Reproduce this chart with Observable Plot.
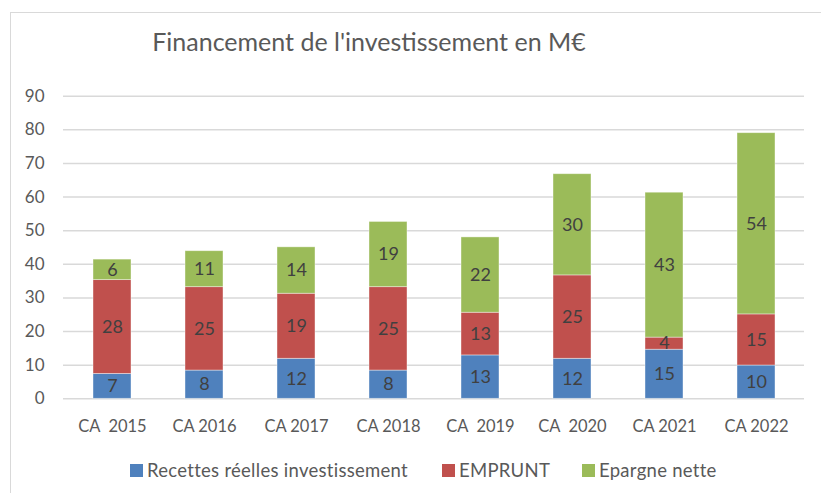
<!DOCTYPE html>
<html>
<head>
<meta charset="utf-8">
<script src="https://cdn.jsdelivr.net/npm/d3@7"></script>
<script src="https://cdn.jsdelivr.net/npm/@observablehq/plot@0.6"></script>
<style>
  html, body { margin: 0; padding: 0; background: #fff; }
  #wrap { position: relative; width: 821px; height: 493px; overflow: hidden; font-family: Lato, "Open Sans", sans-serif; color: #595959; }
  #frame { position: absolute; left: 10px; top: 12px; width: 900px; height: 600px; border-left: 1.5px solid #d9d9d9; border-top: 1.5px solid #d9d9d9; }
  #title { position: absolute; left: 0; width: 738px; top: 24px; text-align: center; font-size: 25px; line-height: 34px; color: #595959; white-space: nowrap; }
  #chart { position: absolute; left: 0; top: 80px; }
  .leg { position: absolute; top: 460px; height: 20px; display: flex; align-items: center; font-size: 18.5px; letter-spacing: 0.28px; color: #595959; white-space: nowrap; }
  .sw { width: 13px; height: 13px; margin-right: 4px; }
</style>
</head>
<body>
<div id="wrap">
  <div id="frame"></div>
  <div id="title">Financement de l'investissement en M€</div>
  <div id="chart"></div>
  <div id="legend"></div>
</div>
<script>
const years = ["2015", "2016", "2017", "2018", "2019", "2020", "2021", "2022"];
const yearLabels = ["CA\u00a0\u00a02015", "CA 2016", "CA 2017", "CA 2018", "CA\u00a0\u00a02019", "CA\u00a0\u00a02020", "CA 2021", "CA 2022"];
const seriesNames = ["Recettes réelles investissement", "EMPRUNT", "Epargne nette"];
const seriesColors = ["#4f81bd", "#c0504d", "#9bbb59"];
const recettes = [7.4, 8.4, 11.9, 8.4, 12.9, 11.9, 14.6, 9.9];
const emprunt  = [27.9, 24.8, 19.35, 24.8, 12.7, 24.8, 3.6, 15.2];
const epargne  = [6.1, 10.7, 13.8, 19.4, 22.4, 30.1, 43.1, 53.9];
const yTicks = [0, 10, 20, 30, 40, 50, 60, 70, 80, 90];

const seriesValues = [recettes, emprunt, epargne];
const data = [];
years.forEach((yr, i) => {
  seriesNames.forEach((s, j) => {
    data.push({year: yr, series: s, value: seriesValues[j][i]});
  });
});
const labelOf = Object.fromEntries(years.map((y, i) => [y, yearLabels[i]]));

const chart = Plot.plot({
  width: 821,
  height: 370,
  marginTop: 15.7,
  marginBottom: 51.7,
  marginLeft: 63,
  marginRight: 17,
  style: {fontFamily: "Lato, 'Open Sans', sans-serif", fontSize: "16px", color: "#595959", background: "transparent"},
  x: {domain: years, paddingInner: 0.59, paddingOuter: 0.3, label: null},
  y: {domain: [0, 90], label: null},
  color: {domain: seriesNames, range: seriesColors},
  marks: [
    Plot.gridY(yTicks, {stroke: "#d9d9d9", strokeOpacity: 1, strokeWidth: 1.4}),
    Plot.axisY(yTicks, {tickSize: 0, tickPadding: 19, fontSize: 17, fill: "#595959", label: null}),
    Plot.axisX({tickSize: 0, tickPadding: 21, fontSize: 16.5, fill: "#595959", tickFormat: d => labelOf[d], label: null}),
    Plot.barY(data, {x: "year", y: "value", fill: "series", stroke: "#ffffff", strokeOpacity: 0.5, strokeWidth: 0.8}),
    Plot.text(data, Plot.stackY({x: "year", y: "value", z: "series", text: d => String(Math.round(d.value)), fill: "#404040", fontSize: 18}))
  ]
});
document.getElementById("chart").appendChild(chart);

const legend = document.getElementById("legend");
const lefts = [130, 442, 582];
seriesNames.forEach((s, i) => {
  const item = document.createElement("div");
  item.className = "leg";
  item.style.left = lefts[i] + "px";
  const sw = document.createElement("div");
  sw.className = "sw";
  sw.style.background = seriesColors[i];
  const t = document.createElement("span");
  t.textContent = s;
  item.appendChild(sw);
  item.appendChild(t);
  legend.appendChild(item);
});
</script>
</body>
</html>
